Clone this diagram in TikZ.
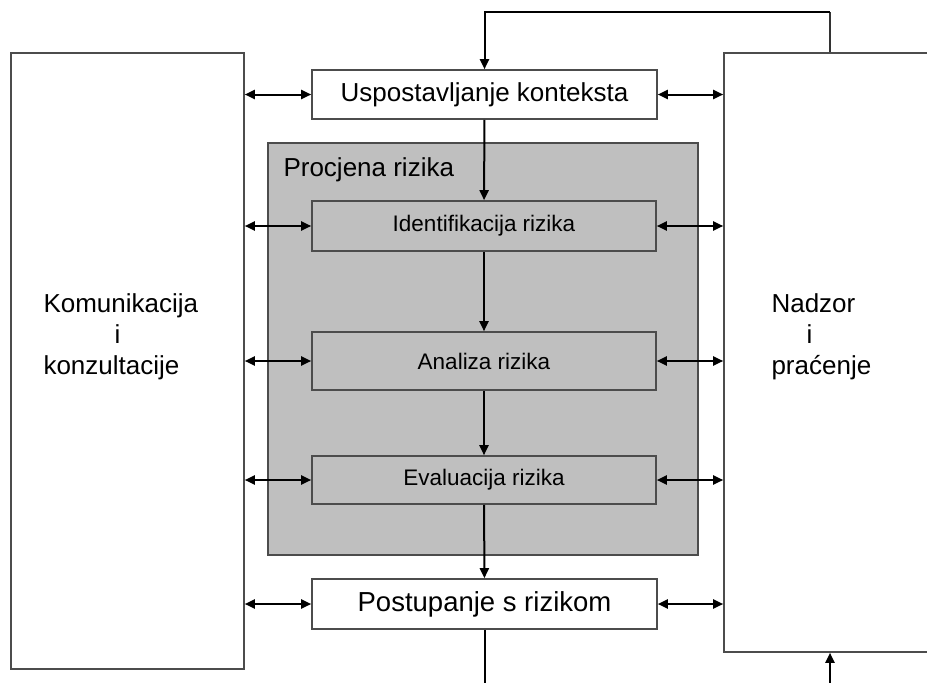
\documentclass[tikz,border=0pt]{standalone}
\usepackage{fontspec}
\setmainfont{Liberation Sans}
\usepackage{tikz}
\usetikzlibrary{arrows.meta, positioning}

\begin{document}
\begin{tikzpicture}[x=1pt, y=-1pt,
    box/.style={draw=black!70, line width=1.6pt, rectangle, inner sep=0pt},
    mainstep/.style={box, fill=white, minimum width=345pt, minimum height=49pt,
        font=\fontsize{26}{31}\selectfont},
    substep/.style={box, minimum width=344pt, font=\fontsize{22.5}{27}\selectfont},
    flow/.style={line width=2pt, -{Triangle[length=10pt, width=9pt]}},
    both/.style={line width=2pt,
        {Triangle[length=10pt, width=9pt]}-{Triangle[length=10pt, width=9pt]}}]
    \useasboundingbox (0,0) rectangle (927,683);
    \clip (0,0) rectangle (927,683);

    % side boxes
    \node[box, fill=white, minimum width=233pt, minimum height=616pt] (komun) at (127.5,361) {};
    \node[box, fill=white, minimum width=216pt, minimum height=599pt] (nadzor) at (832,352.5) {};
    \node[anchor=west, align=left, font=\fontsize{26}{31}\selectfont] (komuntext) at (40,337)
        {Komunikacija\\\hspace{71pt}i\\konzultacije};
    \node[anchor=west, align=left, font=\fontsize{26}{31}\selectfont] (nadzortext) at (768,337)
        {Nadzor\\\hspace{35pt}i\\praćenje};

    % risk assessment block
    \node[box, fill=black!25, minimum width=430pt, minimum height=412pt] (procjena) at (483,349) {};
    \node[anchor=base west, font=\fontsize{26}{31}\selectfont] (procjenatext) at (280,176) {Procjena rizika};

    \node[mainstep] (usp) at (484.5,94.5) {Uspostavljanje konteksta};
    \node[substep, minimum height=50pt] (ident) at (484,226) {Identifikacija rizika};
    \node[substep, minimum height=58pt] (analiza) at (484,361) {Analiza rizika};
    \node[substep, minimum height=48pt] (eval) at (484,480) {Evaluacija rizika};
    \node[mainstep, minimum height=50pt, font=\fontsize{27.5}{32}\selectfont] (postup) at (484.5,604)
        {Postupanje s rizikom};

    \foreach \a/\b in {usp/ident, ident/analiza, analiza/eval, eval/postup}
        \draw[flow] (\a) -- (\b);

    \foreach \n in {usp, ident, analiza, eval, postup} {
        \draw[both] (komun.east |- \n) -- (\n.west);
        \draw[both] (\n.east) -- (nadzor.west |- \n);
    }

    % feedback loops
    \coordinate (loop) at (830,12);
    \coordinate (back) at (830,700);
    \draw[line width=1.6pt, black!80] (nadzor.north -| loop) -- (loop);
    \draw[flow] (loop) -| (usp.north);
    \draw[flow] (postup.south) |- (back) -- (nadzor.south -| back);
\end{tikzpicture}
\end{document}
